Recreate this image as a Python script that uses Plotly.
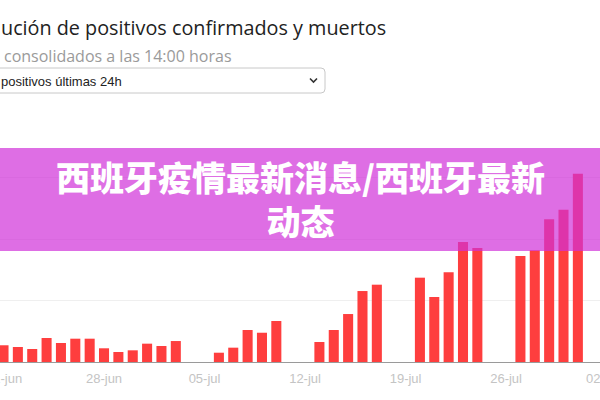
import plotly.graph_objects as go

# ---- data ----
fechas = [
    "2020-06-21", "2020-06-22", "2020-06-23", "2020-06-24", "2020-06-25", "2020-06-26", "2020-06-27",
    "2020-06-28", "2020-06-29", "2020-06-30", "2020-07-01", "2020-07-02", "2020-07-03",
    "2020-07-06", "2020-07-07", "2020-07-08", "2020-07-09", "2020-07-10",
    "2020-07-13", "2020-07-14", "2020-07-15", "2020-07-16", "2020-07-17",
    "2020-07-20", "2020-07-21", "2020-07-22", "2020-07-23", "2020-07-24",
    "2020-07-27", "2020-07-28", "2020-07-29", "2020-07-30", "2020-07-31",
]
positivos = [
    272, 244, 211, 390, 309, 379, 379,
    223, 163, 190, 298, 260, 341,
    151, 233, 520, 476, 667,
    325, 520, 780, 1154, 1257,
    1371, 1057, 1458, 1951, 1854,
    1724, 1816, 2320, 2476, 3062,
]
tick_vals = ["2020-06-28", "2020-07-05", "2020-07-12", "2020-07-19", "2020-07-26"]
tick_text = ["28-jun", "05-jul", "12-jul", "19-jul", "26-jul"]
tick_first = "21-jun"
tick_last = "02-ago"

titulo = "ución de positivos confirmados y muertos"
subtitulo = "consolidados a las 14:00 horas"
selector = "positivos últimas 24h"
banner_l1 = "西班牙疫情最新消息/西班牙最新"
banner_l2 = "动态"

# ---- layout geometry (pixels) ----
W, H = 600, 400
TOP, BOTTOM = 120, 362
PLOT_H = BOTTOM - TOP
PX_PER_UNIT = 0.0615


def py(p):
    """pixel y -> paper y"""
    return (BOTTOM - p) / PLOT_H


def px(p):
    return p / W


tick_font = dict(family="Liberation Sans, Arial", size=13, color="#c4c4c4")

fig = go.Figure()
fig.add_trace(go.Bar(x=fechas, y=positivos, marker=dict(color="#fe3e3e", line=dict(width=0)),
                     hoverinfo="skip"))

fig.update_layout(
    width=W, height=H,
    margin=dict(l=0, r=0, t=TOP, b=H - BOTTOM, pad=0, autoexpand=False),
    paper_bgcolor="white", plot_bgcolor="white",
    bargap=0.3,
    showlegend=False,
    xaxis=dict(
        type="date",
        range=["2020-06-20 18:08", "2020-08-01 13:00"],
        tickvals=tick_vals, ticktext=tick_text,
        showgrid=False, zeroline=False, automargin=False,
        showline=True, linecolor="#9a9a9a", linewidth=1,
        ticks="", tickfont=tick_font,
        ticklabelstandoff=4,
    ),
    yaxis=dict(
        range=[0, PLOT_H / PX_PER_UNIT], automargin=False,
        dtick=1000, showgrid=True, gridcolor="#efefef", gridwidth=1,
        zeroline=False, showticklabels=False, ticks="", showline=False,
    ),
)

shapes = []
annotations = []

# edge (partially visible) tick labels
annotations.append(dict(text=tick_first, x=px(3.5), y=py(378), xref="paper", yref="paper",
                        xanchor="center", yanchor="middle", showarrow=False, font=tick_font))
annotations.append(dict(text=tick_last, x=px(606), y=py(378), xref="paper", yref="paper",
                        xanchor="center", yanchor="middle", showarrow=False, font=tick_font))

# title & subtitle
annotations.append(dict(text=titulo, x=px(-1), y=py(28), xref="paper", yref="paper",
                        xanchor="left", yanchor="middle", showarrow=False,
                        font=dict(family="Open Sans", size=19.8, color="#222222")))
annotations.append(dict(text=subtitulo, x=px(2), y=py(56), xref="paper", yref="paper",
                        xanchor="left", yanchor="middle", showarrow=False,
                        font=dict(family="Open Sans", size=16, color="#9a9a9a")))

# dropdown box
x0, x1, y0, y1, r = -6, 325, 68, 93, 4
path = (f"M {px(x0)},{py(y0)} L {px(x1 - r)},{py(y0)} Q {px(x1)},{py(y0)} {px(x1)},{py(y0 + r)} "
        f"L {px(x1)},{py(y1 - r)} Q {px(x1)},{py(y1)} {px(x1 - r)},{py(y1)} L {px(x0)},{py(y1)} Z")
shapes.append(dict(type="path", path=path, xref="paper", yref="paper",
                   line=dict(color="#c8c8c8", width=1), fillcolor="white", layer="above"))
annotations.append(dict(text=selector, x=px(-1), y=py(81), xref="paper", yref="paper",
                        xanchor="left", yanchor="middle", showarrow=False,
                        font=dict(family="Liberation Sans, Arial", size=13, color="#222222")))
chev = f"M {px(310)},{py(78.5)} L {px(313.5)},{py(82)} L {px(317)},{py(78.5)}"
shapes.append(dict(type="path", path=chev, xref="paper", yref="paper",
                   line=dict(color="#333333", width=1.6), layer="above"))

# banner overlay
shapes.append(dict(type="rect", xref="paper", yref="paper", x0=0, x1=1, y0=py(251), y1=py(148),
                   fillcolor="rgba(208,48,216,0.70)", line=dict(width=0), layer="above"))
annotations.append(dict(text=banner_l1 + "<br>" + banner_l2, x=0.5, y=py(198),
                        xref="paper", yref="paper",
                        xanchor="center", yanchor="middle", showarrow=False,
                        font=dict(family="Noto Sans CJK SC", size=34, color="white", weight=900)))

fig.update_layout(shapes=shapes, annotations=annotations)

fig.write_html("out.html", config={"displayModeBar": False},
               post_script="document.body.style.margin='0';document.body.style.padding='0';")
